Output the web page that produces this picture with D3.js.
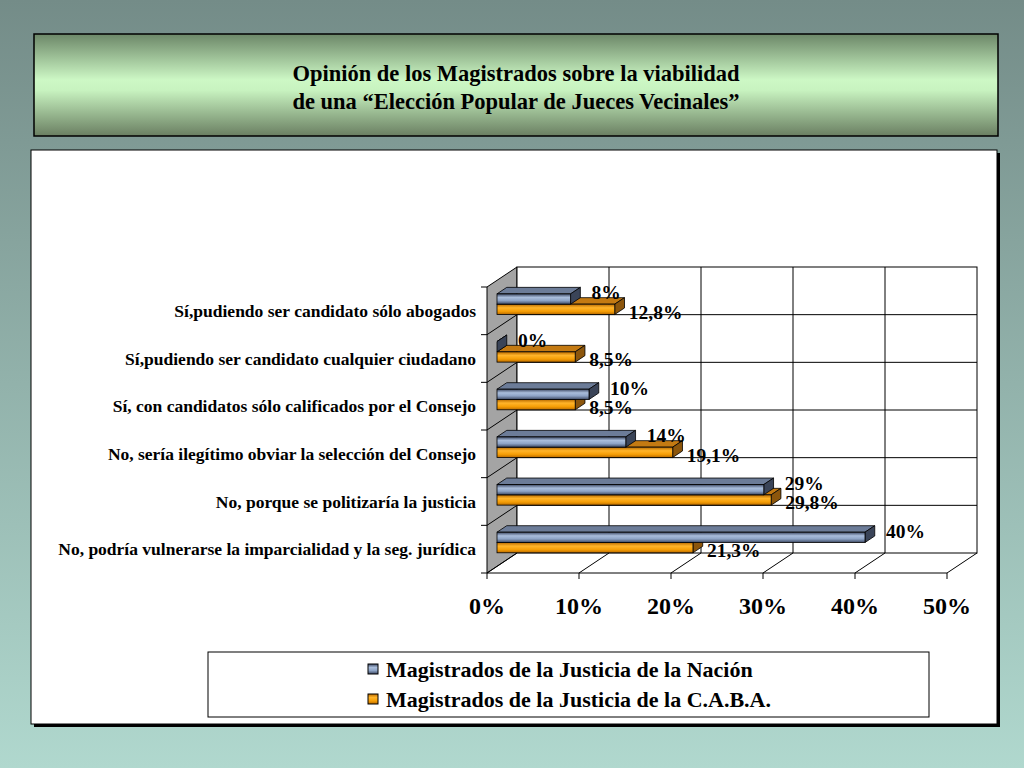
<!DOCTYPE html>
<html>
<head>
<meta charset="utf-8">
<script src="https://cdn.jsdelivr.net/npm/d3@7"></script>
<style>
  html, body { margin: 0; padding: 0; }
  svg { display: block; }
  text { font-family: "Liberation Serif", "Times New Roman", serif; font-weight: bold; fill: #000; }
</style>
</head>
<body>
<svg id="chart" width="1024" height="768"></svg>
<script>
// datos
var categorias = [
    'Sí,pudiendo ser candidato sólo abogados',
    'Sí,pudiendo ser candidato cualquier ciudadano',
    'Sí, con candidatos sólo calificados por el Consejo',
    'No, sería ilegítimo obviar la selección del Consejo',
    'No, porque se politizaría la justicia',
    'No, podría vulnerarse la imparcialidad y la seg. jurídica'
];
var nacion = [8, 0, 10, 14, 29, 40];
var caba = [12.8, 8.5, 8.5, 19.1, 29.8, 21.3];
var series = ['Magistrados de la Justicia de la Nación', 'Magistrados de la Justicia de la C.A.B.A.'];
var ticksX = [0, 10, 20, 30, 40, 50];
var titulo = ['Opinión de los Magistrados sobre la viabilidad', 'de una “Elección Popular de Jueces Vecinales”'];

var svg = d3.select('#chart');
var defs = svg.append('defs');

// gradientes
function gradV(id, stops) {
    var g = defs.append('linearGradient').attr('id', id)
        .attr('x1', 0).attr('y1', 0).attr('x2', 0).attr('y2', 1);
    stops.forEach(function (s) {
        g.append('stop').attr('offset', s[0]).attr('stop-color', s[1]);
    });
}
gradV('fondo', [[0, '#748c88'], [1, '#b0d8ce']]);
gradV('tituloGrad', [[0, '#6c8768'], [0.45, '#cdf8c5'], [0.55, '#c8f3c0'], [1, '#6a7f62']]);
gradV('azul', [[0, '#3c4862'], [0.35, '#a9bddb'], [0.65, '#8ea4c6'], [1, '#3c4862']]);
gradV('naranja', [[0, '#b86a00'], [0.35, '#ffb42a'], [0.7, '#f59d05'], [1, '#b86a00']]);

svg.append('rect').attr('width', 1024).attr('height', 768).attr('fill', 'url(#fondo)');

// CAJA DEL TITULO
svg.append('rect').attr('x', 34).attr('y', 34).attr('width', 964).attr('height', 102)
    .attr('fill', 'url(#tituloGrad)').attr('stroke', '#000').attr('stroke-width', 1.5);
svg.selectAll('.titulo').data(titulo).enter().append('text')
    .attr('class', 'titulo')
    .attr('x', 516)
    .attr('y', function (d, i) { return 81 + i * 28; })
    .attr('text-anchor', 'middle')
    .attr('font-size', '22.5px')
    .text(function (d) { return d; });

// PANEL BLANCO con sombra
svg.append('rect').attr('x', 34).attr('y', 153).attr('width', 966).attr('height', 574).attr('fill', '#000');
svg.append('rect').attr('x', 31).attr('y', 150).attr('width', 966).attr('height', 574)
    .attr('fill', '#fff').attr('stroke', '#000').attr('stroke-width', 1);

// ESCALAS (plano frontal; la profundidad desplaza +30, -20)
var x = d3.scaleLinear().domain([0, 50]).range([487, 947]);
var y = d3.scaleBand().domain(categorias).range([287, 573]);
var prof = { dx: 30, dy: -20 };
function desp(d) { return [prof.dx * d, prof.dy * d]; }

var yTop = y.range()[0], yBot = y.range()[1];
var b = desp(1);
var g = svg.append('g').attr('stroke', '#000').attr('stroke-width', 1);

// pared izquierda gris
g.append('path')
    .attr('fill', '#a4a4a4')
    .attr('d', 'M' + x(0) + ',' + yTop + 'L' + (x(0) + b[0]) + ',' + (yTop + b[1]) +
        'L' + (x(0) + b[0]) + ',' + (yBot + b[1]) + 'L' + x(0) + ',' + yBot + 'Z');

// pared del fondo
g.append('rect')
    .attr('x', x(0) + b[0]).attr('y', yTop + b[1])
    .attr('width', x(50) - x(0)).attr('height', yBot - yTop)
    .attr('fill', '#fff');

// grilla vertical del fondo
g.selectAll('.gv').data(ticksX.slice(1, -1)).enter().append('line')
    .attr('x1', function (d) { return x(d) + b[0]; })
    .attr('x2', function (d) { return x(d) + b[0]; })
    .attr('y1', yTop + b[1]).attr('y2', yBot + b[1]);

// limites de categorias
var limites = categorias.map(function (c) { return y(c); }).concat([yBot]);
g.selectAll('.gh').data(limites.slice(1, -1)).enter().append('line')
    .attr('x1', x(0) + b[0]).attr('x2', x(50) + b[0])
    .attr('y1', function (d) { return d + b[1]; })
    .attr('y2', function (d) { return d + b[1]; });
g.selectAll('.gd').data(limites.slice(1, -1)).enter().append('line')
    .attr('x1', x(0)).attr('x2', x(0) + b[0])
    .attr('y1', function (d) { return d; })
    .attr('y2', function (d) { return d + b[1]; });

// piso
g.selectAll('.piso').data(ticksX).enter().append('line')
    .attr('x1', function (d) { return x(d); })
    .attr('x2', function (d) { return x(d) + b[0]; })
    .attr('y1', yBot).attr('y2', yBot + b[1]);
g.append('line').attr('x1', x(0)).attr('x2', x(50)).attr('y1', yBot).attr('y2', yBot);

// ticks
g.selectAll('.tx').data(ticksX).enter().append('line')
    .attr('x1', function (d) { return x(d); })
    .attr('x2', function (d) { return x(d); })
    .attr('y1', yBot).attr('y2', yBot + 6);
g.selectAll('.ty').data(limites).enter().append('line')
    .attr('x1', x(0) - 6).attr('x2', x(0))
    .attr('y1', function (d) { return d; })
    .attr('y2', function (d) { return d; });

// etiquetas eje X
svg.selectAll('.lx').data(ticksX).enter().append('text')
    .attr('x', function (d) { return x(d); })
    .attr('y', 614)
    .attr('text-anchor', 'middle')
    .attr('font-size', '24px')
    .text(function (d) { return d + '%'; });

// etiquetas de categorias
svg.selectAll('.lc').data(categorias).enter().append('text')
    .attr('x', 476)
    .attr('y', function (d) { return y(d) + y.bandwidth() / 2; })
    .attr('dy', '0.35em')
    .attr('text-anchor', 'end')
    .attr('font-size', '17.5px')
    .text(function (d) { return d; });

// BARRAS 3D
var altoBarra = 10.3;
var f = desp(1 / 3);          // cara frontal de la barra
var p = [9.75, -6.5];         // profundidad de la barra
var colores = [
    { frente: 'url(#azul)', arriba: '#6c7c98', lado: '#3a4458' },
    { frente: 'url(#naranja)', arriba: '#c47a12', lado: '#8c560c' }
];
var valores = [nacion, caba];

function barraTop(i, s) {
    return y(categorias[i]) + (y.bandwidth() - 2 * altoBarra) / 2 + f[1] + s * altoBarra;
}

var gb = svg.append('g').attr('stroke', '#000').attr('stroke-width', 0.8);
categorias.forEach(function (c, i) {
    [1, 0].forEach(function (s) {
        var v = valores[s][i];
        var x0 = x(0) + f[0], x1 = x(v) + f[0];
        var t = barraTop(i, s), bo = t + altoBarra;
        var col = colores[s];
        // cara superior
        gb.append('path').attr('fill', col.arriba)
            .attr('d', 'M' + x0 + ',' + t + 'L' + (x0 + p[0]) + ',' + (t + p[1]) +
                'L' + (x1 + p[0]) + ',' + (t + p[1]) + 'L' + x1 + ',' + t + 'Z');
        // cara lateral
        gb.append('path').attr('fill', col.lado)
            .attr('d', 'M' + x1 + ',' + t + 'L' + (x1 + p[0]) + ',' + (t + p[1]) +
                'L' + (x1 + p[0]) + ',' + (bo + p[1]) + 'L' + x1 + ',' + bo + 'Z');
        // cara frontal
        if (v > 0) {
            gb.append('rect').attr('fill', col.frente)
                .attr('x', x0).attr('y', t).attr('width', x1 - x0).attr('height', altoBarra);
        }
    });
});

// ETIQUETAS DE DATOS
function fmt(v) { return String(v).replace('.', ',') + '%'; }
valores.forEach(function (vals, s) {
    svg.selectAll('.ld' + s).data(vals).enter().append('text')
        .attr('x', function (d) { return x(d) + f[0] + (s === 0 ? 21 : 14); })
        .attr('y', function (d, i) { return barraTop(i, s) + altoBarra / 2 + (s === 0 ? -6.5 : 2.6); })
        .attr('dy', '0.35em')
        .attr('font-size', '19.5px')
        .text(fmt);
});

// LEYENDA
svg.append('rect').attr('x', 208).attr('y', 652).attr('width', 721).attr('height', 65)
    .attr('fill', '#fff').attr('stroke', '#000').attr('stroke-width', 1);
var ley = svg.selectAll('.ley').data(series).enter().append('g')
    .attr('transform', function (d, i) { return 'translate(368,' + (669 + i * 30) + ')'; });
ley.append('rect').attr('x', 0).attr('y', -5).attr('width', 10).attr('height', 10)
    .attr('fill', function (d, i) { return colores[i].frente; })
    .attr('stroke', '#000').attr('stroke-width', 1);
ley.append('text').attr('x', 18).attr('dy', '0.35em').attr('font-size', '22px')
    .text(function (d) { return d; });
</script>
</body>
</html>
